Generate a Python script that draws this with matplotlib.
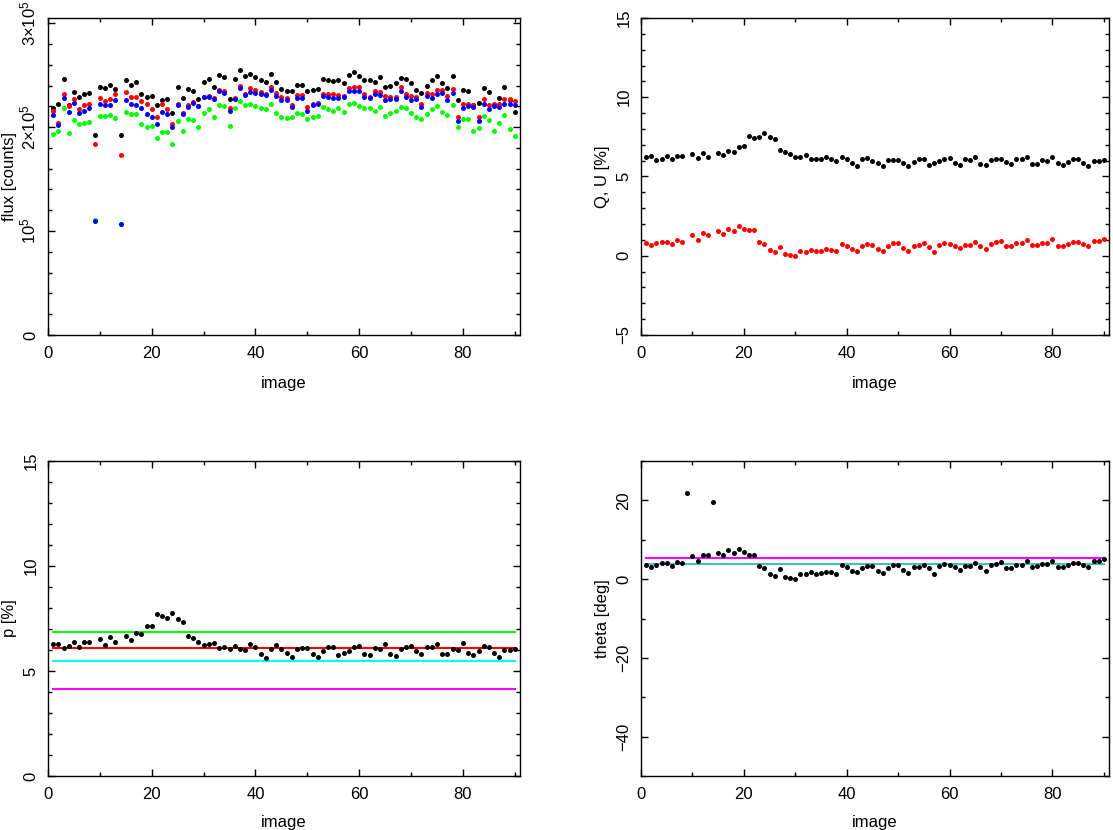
import numpy as np
import matplotlib
matplotlib.use("Agg")
import matplotlib.pyplot as plt
from matplotlib.ticker import MultipleLocator, FixedLocator, FixedFormatter

plt.rcParams['font.family'] = ['Liberation Sans', 'DejaVu Sans']
plt.rcParams['font.size'] = 12
plt.rcParams['mathtext.default'] = 'regular'

nan = np.nan
image = np.arange(1, 91)

# flux per image, in units of 1e5 counts
flux_black = [2.18, 2.22, 2.46, 2.21, 2.34, 2.29, 2.32, 2.33, 1.92, 2.39,
              2.38, 2.41, 2.37, 1.92, 2.45, 2.41, 2.43, 2.32, 2.29, 2.30,
              2.21, 2.26, 2.27, 2.14, 2.39, 2.28, 2.37, 2.35, 2.27, 2.43,
              2.46, 2.39, 2.50, 2.48, 2.27, 2.46, 2.55, 2.49, 2.51, 2.48,
              2.45, 2.43, 2.51, 2.43, 2.37, 2.35, 2.35, 2.41, 2.41, 2.35,
              2.36, 2.37, 2.46, 2.45, 2.44, 2.45, 2.42, 2.50, 2.53, 2.49,
              2.45, 2.45, 2.43, 2.48, 2.39, 2.40, 2.42, 2.47, 2.46, 2.42,
              2.36, 2.33, 2.40, 2.45, 2.49, 2.42, 2.38, 2.49, 2.26, 2.36,
              2.35, 2.21, 2.23, 2.38, 2.34, 2.21, 2.28, 2.39, 2.26, 2.15]
flux_red = [2.16, 2.04, 2.32, 2.20, 2.27, 2.17, 2.21, 2.22, 1.84, 2.28,
            2.25, 2.27, 2.32, 1.73, 2.34, 2.29, 2.29, 2.25, 2.22, 2.17,
            2.10, 2.22, 2.17, 2.03, 2.22, 2.14, 2.21, 2.24, 2.20, 2.29,
            2.30, 2.28, 2.36, 2.35, 2.18, 2.28, 2.40, 2.32, 2.38, 2.36,
            2.34, 2.32, 2.39, 2.33, 2.29, 2.28, 2.21, 2.31, 2.31, 2.19,
            2.22, 2.23, 2.32, 2.32, 2.32, 2.31, 2.30, 2.38, 2.39, 2.39,
            2.32, 2.29, 2.35, 2.34, 2.30, 2.29, 2.29, 2.39, 2.32, 2.30,
            2.29, 2.22, 2.33, 2.32, 2.36, 2.36, 2.30, 2.37, 2.10, 2.22,
            2.22, 2.21, 2.10, 2.27, 2.21, 2.22, 2.22, 2.27, 2.27, 2.25]
flux_blue = [2.12, 2.02, 2.28, 2.15, 2.23, 2.14, 2.16, 2.18, 1.10, 2.22,
             2.21, 2.21, 2.26, 1.07, 2.26, 2.22, 2.21, 2.18, 2.13, 2.10,
             2.03, 2.15, 2.13, 2.00, 2.21, 2.13, 2.19, 2.23, 2.20, 2.29,
             2.29, 2.27, 2.35, 2.33, 2.16, 2.27, 2.38, 2.31, 2.34, 2.33,
             2.32, 2.31, 2.36, 2.30, 2.26, 2.26, 2.19, 2.28, 2.28, 2.16,
             2.21, 2.22, 2.30, 2.29, 2.28, 2.28, 2.29, 2.35, 2.35, 2.35,
             2.29, 2.28, 2.32, 2.31, 2.26, 2.27, 2.27, 2.35, 2.29, 2.26,
             2.27, 2.19, 2.30, 2.28, 2.32, 2.33, 2.26, 2.33, 2.06, 2.18,
             2.20, 2.19, 2.06, 2.22, 2.17, 2.20, 2.19, 2.22, 2.22, 2.21]
flux_green = [1.93, 1.96, 2.18, 1.94, 2.07, 2.03, 2.04, 2.05, 1.11, 2.11,
              2.11, 2.12, 2.09, 1.07, 2.15, 2.13, 2.13, 2.03, 2.00, 2.01,
              1.90, 1.95, 1.95, 1.84, 2.06, 1.96, 2.08, 2.07, 2.00, 2.14,
              2.17, 2.10, 2.21, 2.20, 2.01, 2.18, 2.25, 2.21, 2.22, 2.20,
              2.18, 2.17, 2.22, 2.14, 2.10, 2.09, 2.10, 2.14, 2.13, 2.08,
              2.10, 2.11, 2.19, 2.17, 2.16, 2.18, 2.15, 2.22, 2.23, 2.20,
              2.18, 2.18, 2.16, 2.19, 2.11, 2.14, 2.16, 2.19, 2.18, 2.14,
              2.10, 2.08, 2.13, 2.17, 2.20, 2.15, 2.12, 2.21, 2.00, 2.08,
              2.08, 1.96, 1.99, 2.11, 2.07, 1.96, 2.04, 2.12, 1.98, 1.91]

# Stokes Q, U [%]  (images 9 and 14 rejected)
q = [6.25, 6.27, 6.06, 6.13, 6.32, 6.11, 6.29, 6.32, nan, 6.40,
     6.17, 6.51, 6.23, nan, 6.51, 6.34, 6.61, 6.57, 6.88, 6.93,
     7.56, 7.43, 7.47, 7.73, 7.52, 7.37, 6.67, 6.57, 6.40, 6.23,
     6.25, 6.34, 6.11, 6.13, 6.08, 6.21, 6.08, 5.98, 6.25, 6.13,
     5.83, 5.64, 6.08, 6.19, 6.00, 5.85, 5.68, 6.04, 6.06, 6.06,
     5.83, 5.68, 5.94, 6.11, 6.08, 5.75, 5.87, 5.98, 6.13, 6.17,
     5.83, 5.75, 6.08, 6.04, 6.25, 5.79, 5.73, 6.04, 6.08, 6.13,
     5.94, 5.81, 6.13, 6.13, 6.21, 5.81, 5.77, 6.02, 5.98, 6.25,
     5.87, 5.73, 5.92, 6.13, 6.08, 5.83, 5.64, 5.98, 6.00, 6.02]
u = [0.80, 0.65, 0.78, 0.88, 0.88, 0.72, 0.97, 0.88, nan, 1.31,
     1.01, 1.41, 1.33, nan, 1.54, 1.37, 1.71, 1.56, 1.85, 1.71,
     1.60, 1.64, 0.86, 0.72, 0.36, 0.21, 0.57, 0.13, 0.04, 0.00,
     0.29, 0.25, 0.36, 0.27, 0.32, 0.40, 0.38, 0.29, 0.76, 0.63,
     0.42, 0.32, 0.61, 0.74, 0.69, 0.40, 0.32, 0.61, 0.78, 0.78,
     0.48, 0.32, 0.61, 0.67, 0.80, 0.53, 0.25, 0.67, 0.82, 0.76,
     0.61, 0.48, 0.69, 0.69, 0.86, 0.61, 0.40, 0.74, 0.84, 0.95,
     0.59, 0.59, 0.78, 0.78, 1.01, 0.65, 0.67, 0.80, 0.82, 1.05,
     0.61, 0.59, 0.72, 0.88, 0.86, 0.72, 0.63, 0.93, 0.95, 1.07]

# polarisation degree p [%]
p = [6.30, 6.30, 6.09, 6.18, 6.36, 6.14, 6.36, 6.36, nan, 6.52,
     6.23, 6.63, 6.36, nan, 6.66, 6.47, 6.80, 6.74, 7.12, 7.12,
     7.70, 7.61, 7.51, 7.75, 7.50, 7.35, 6.66, 6.56, 6.37, 6.23,
     6.30, 6.33, 6.09, 6.12, 6.07, 6.20, 6.07, 5.98, 6.28, 6.14,
     5.81, 5.63, 6.07, 6.22, 6.03, 5.85, 5.68, 6.03, 6.11, 6.09,
     5.81, 5.66, 5.96, 6.14, 6.14, 5.74, 5.85, 5.96, 6.15, 6.20,
     5.82, 5.74, 6.09, 6.06, 6.28, 5.79, 5.71, 6.04, 6.12, 6.20,
     5.95, 5.81, 6.14, 6.14, 6.28, 5.81, 5.81, 6.04, 5.99, 6.33,
     5.88, 5.74, 5.93, 6.17, 6.12, 5.85, 5.66, 6.01, 6.01, 6.07]
p_levels = [6.88, 6.09, 5.49, 4.13]
p_level_colors = ['#00ff00', '#ff0000', '#00ffff', '#ff00ff']

# polarisation angle theta [deg]
theta = [3.6, 3.0, 3.6, 4.1, 4.1, 3.3, 4.4, 4.0, 21.8, 5.8,
         4.7, 6.1, 6.1, 19.7, 6.7, 6.1, 7.3, 6.7, 7.6, 7.0,
         6.1, 6.2, 3.3, 2.7, 1.4, 0.8, 2.5, 0.6, 0.2, 0.0,
         1.3, 1.2, 1.7, 1.3, 1.5, 1.8, 1.8, 1.4, 3.5, 3.0,
         2.0, 1.7, 2.9, 3.4, 3.4, 2.0, 1.5, 2.9, 3.6, 3.6,
         2.3, 1.6, 3.0, 3.1, 3.7, 2.7, 1.2, 3.3, 3.8, 3.5,
         3.1, 2.4, 3.3, 3.3, 4.0, 3.1, 2.1, 3.5, 3.9, 4.4,
         2.9, 2.9, 3.6, 3.6, 4.6, 3.2, 3.4, 3.8, 3.9, 4.7,
         3.0, 3.0, 3.5, 4.1, 4.1, 3.6, 3.2, 4.5, 4.5, 5.0]
theta_levels = [5.45, 5.25, 3.96]
theta_level_colors = ['#00e0e0', '#ff00ff', '#40c0c0']

W, H = 1113, 830
fig = plt.figure(figsize=(W / 100, H / 100), dpi=100)


def box(x0, x1, ytop, ybot):
    return [x0 / W, 1 - ybot / H, (x1 - x0) / W, (ybot - ytop) / H]


def style(ax, ymaj, ymin, label):
    ax.set_xlim(0, 91)
    ax.xaxis.set_major_locator(MultipleLocator(20))
    ax.xaxis.set_minor_locator(MultipleLocator(10))
    ax.yaxis.set_major_locator(MultipleLocator(ymaj))
    ax.yaxis.set_minor_locator(MultipleLocator(ymin))
    ax.tick_params(which='both', direction='in', top=True, right=True, width=1)
    ax.tick_params(which='major', length=4.8)
    ax.tick_params(which='minor', length=2.9)
    ax.tick_params(axis='x', pad=8)
    ax.tick_params(axis='y', pad=7, labelrotation=90)
    for lab in ax.get_yticklabels():
        lab.set_va('center')
    for s in ax.spines.values():
        s.set_linewidth(1.0)
    ax.set_xlabel('image')
    ax.set_ylabel(label)
    ax.yaxis.set_label_coords(-0.066, 0.5)


ms = 3.6

# flux
ax1 = fig.add_axes(box(48, 520, 18, 335))
for vals, c in [(flux_black, 'k'), (flux_red, '#ff0000'),
                (flux_green, '#00ff00'), (flux_blue, '#0000ff')]:
    ax1.plot(image, np.array(vals) * 1e5, 'o', color=c, ms=ms, mew=0)
ax1.set_ylim(0, 3.05e5)
style(ax1, 1e5, 2e4, 'flux [counts]')
ax1.yaxis.set_major_locator(FixedLocator([0, 1e5, 2e5, 3e5]))
ax1.yaxis.set_major_formatter(FixedFormatter(
    ['0', r'$10^5$', r'$2{\times}10^5$', r'$3{\times}10^5$']))
for lab in ax1.get_yticklabels():
    lab.set_va('center')
ax1.xaxis.set_label_coords(0.5, -0.13)

# Q, U
ax2 = fig.add_axes(box(641, 1109, 18, 335))
ax2.plot(image, q, 'o', color='k', ms=ms, mew=0)
ax2.plot(image, u, 'o', color='#ff0000', ms=ms, mew=0)
ax2.set_ylim(-5, 15)
style(ax2, 5, 1, 'Q, U [%]')
ax2.xaxis.set_label_coords(0.5, -0.13)

# p
ax3 = fig.add_axes(box(48, 520, 461, 776))
for lvl, c in zip(p_levels, p_level_colors):
    ax3.plot([image[0], image[-1]], [lvl, lvl], color=c, lw=1.5)
ax3.plot(image, p, 'o', color='k', ms=ms, mew=0)
ax3.set_ylim(0, 15)
style(ax3, 5, 1, 'p [%]')
ax3.xaxis.set_label_coords(0.5, -0.125)

# theta
ax4 = fig.add_axes(box(641, 1109, 461, 776))
for lvl, c in zip(theta_levels, theta_level_colors):
    ax4.plot([image[0], image[-1]], [lvl, lvl], color=c, lw=1.5)
ax4.plot(image, theta, 'o', color='k', ms=ms, mew=0)
ax4.set_ylim(-50, 30)
style(ax4, 20, 10, 'theta [deg]')
ax4.xaxis.set_label_coords(0.5, -0.125)

fig.savefig('out.png', dpi=100)
